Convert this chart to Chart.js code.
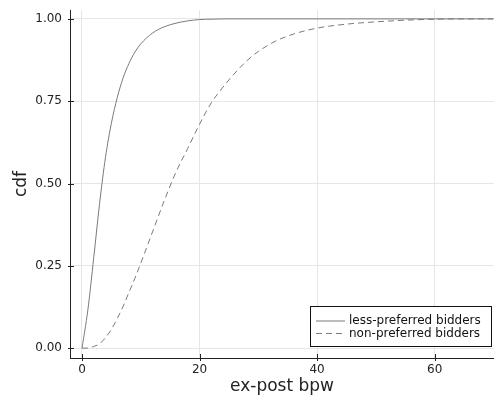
<!DOCTYPE html>
<html>
<head>
<meta charset="utf-8">
<script src="https://cdn.jsdelivr.net/npm/chart.js@4.4.0/dist/chart.umd.min.js"></script>
<style>
  body { margin: 0; background: #fff; }
  #wrap { width: 494px; height: 397px; }
</style>
</head>
<body>
<div id="wrap"><canvas id="chartCdf" width="494" height="397"></canvas></div>
<script>
// valores (ex-post bpw -> cdf)
const bpw = [0, 1, 2, 3, 4, 5, 6, 7, 8, 9, 10, 12, 14, 16, 18, 20, 22, 24, 26, 28, 30, 33, 36, 40, 45, 50, 55, 60, 65, 70];
const cdfLessPreferred = [0, 0.116, 0.275, 0.44, 0.58, 0.683, 0.761, 0.821, 0.865, 0.899, 0.924, 0.957, 0.976, 0.987, 0.994, 0.998, 0.999, 1, 1, 1, 1, 1, 1, 1, 1, 1, 1, 1, 1, 1];
const cdfNonPreferred = [0, 0, 0.005, 0.013, 0.032, 0.057, 0.09, 0.127, 0.17, 0.212, 0.258, 0.353, 0.448, 0.535, 0.607, 0.68, 0.745, 0.793, 0.835, 0.872, 0.901, 0.933, 0.954, 0.972, 0.984, 0.991, 0.996, 0.999, 1, 1];
const seriesLabels = ['less-preferred bidders', 'non-preferred bidders'];
const xTicks = [0, 20, 40, 60];
const yTicks = [0, 0.25, 0.5, 0.75, 1];

Chart.defaults.font.family = "'DejaVu Sans', sans-serif";
Chart.defaults.color = '#222';

const lineColor = '#7a7a7a';
const gridColor = '#e6e6e6';

function pontos(ys) {
    return bpw.map((x, i) => ({ x: x, y: ys[i] }));
}

// legenda com moldura e ticks internos, no estilo do original
const extras = {
    id: 'extras',
    afterDatasetsDraw(chart) {
        const ctx = chart.ctx;
        const xs = chart.scales.x, ys = chart.scales.y;
        const area = chart.chartArea;
        ctx.save();
        ctx.strokeStyle = '#222';
        ctx.lineWidth = 1;
        ctx.beginPath();
        xTicks.forEach(v => {
            const px = Math.round(xs.getPixelForValue(v)) + 0.5;
            ctx.moveTo(px, area.bottom + 3);
            ctx.lineTo(px, area.bottom - 4);
        });
        yTicks.forEach(v => {
            const py = Math.round(ys.getPixelForValue(v)) + 0.5;
            ctx.moveTo(area.left - 2, py);
            ctx.lineTo(area.left + 4, py);
        });
        ctx.stroke();

        // caixa da legenda
        const bx = 310.5, by = 306.5, bw = 181, bh = 40;
        ctx.fillStyle = '#fff';
        ctx.fillRect(bx, by, bw, bh);
        ctx.strokeStyle = '#111';
        ctx.strokeRect(bx, by, bw, bh);
        ctx.font = "12px 'DejaVu Sans'";
        ctx.textBaseline = 'middle';
        ctx.fillStyle = '#111';
        const rows = [321, 333.5];
        chart.data.datasets.forEach((ds, i) => {
            ctx.strokeStyle = lineColor;
            ctx.setLineDash(ds.borderDash || []);
            ctx.beginPath();
            ctx.moveTo(316, rows[i]);
            ctx.lineTo(345, rows[i]);
            ctx.stroke();
            ctx.setLineDash([]);
            ctx.fillText(ds.label, 349, rows[i]);
        });
        ctx.restore();
    }
};

new Chart(document.getElementById('chartCdf'), {
    type: 'line',
    data: {
        datasets: [{
            label: seriesLabels[0],
            data: pontos(cdfLessPreferred),
            borderColor: lineColor,
            borderWidth: 1,
            pointRadius: 0,
            cubicInterpolationMode: 'monotone',
            fill: false
        }, {
            label: seriesLabels[1],
            data: pontos(cdfNonPreferred),
            borderColor: lineColor,
            borderWidth: 1,
            borderDash: [6, 4],
            pointRadius: 0,
            cubicInterpolationMode: 'monotone',
            fill: false
        }]
    },
    options: {
        responsive: false,
        animation: false,
        layout: { padding: { top: 10, right: 0, left: 0, bottom: 0 } },
        plugins: {
            legend: { display: false },
            tooltip: { enabled: false }
        },
        scales: {
            x: {
                type: 'linear',
                min: -2.04,
                max: 70.1,
                afterBuildTicks: s => { s.ticks = xTicks.map(v => ({ value: v })); },
                afterFit: s => { s.height = 39; s.paddingLeft = 0; s.paddingRight = 0; },
                grid: { color: gridColor, drawTicks: false },
                border: { color: '#222', width: 1 },
                ticks: { padding: 5, font: { size: 12 }, color: '#222' },
                title: { display: true, text: 'ex-post bpw', font: { size: 17 }, padding: { top: 0, bottom: 0 } }
            },
            y: {
                type: 'linear',
                min: -0.03,
                max: 1.027,
                afterBuildTicks: s => { s.ticks = yTicks.map(v => ({ value: v })); },
                afterFit: s => { s.width = 70; s.paddingTop = 0; s.paddingBottom = 0; },
                grid: { color: gridColor, drawTicks: false },
                border: { color: '#222', width: 1 },
                ticks: { padding: 8, font: { size: 12 }, color: '#222', callback: v => Number(v).toFixed(2) },
                title: { display: true, text: 'cdf', font: { size: 17 }, padding: { top: 11, bottom: 0 } }
            }
        }
    },
    plugins: [extras]
});
</script>
</body>
</html>
